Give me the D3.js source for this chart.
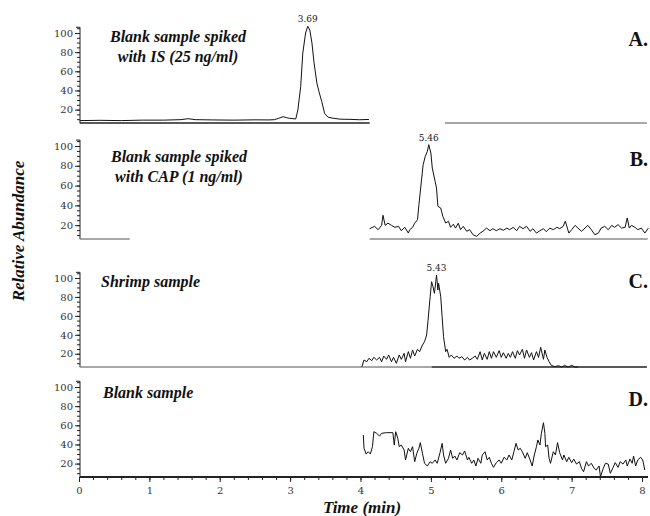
<!DOCTYPE html>
<html>
<head>
<meta charset="utf-8">
<script src="https://cdn.jsdelivr.net/npm/d3@7"></script>
<style>
  body { margin: 0; background: #fff; }
  svg { display: block; }
  .tick text { font-family: "DejaVu Serif", serif; font-size: 10px; fill: #333; }
  .tick line { stroke: #222; }
  .title { font-family: "Liberation Serif", serif; font-weight: bold; font-style: italic; font-size: 16px; fill: #111; }
  .letter { font-family: "Liberation Serif", serif; font-weight: bold; font-size: 20px; fill: #111; }
  .peak { font-family: "DejaVu Serif", serif; font-size: 9px; fill: #222; }
</style>
</head>
<body>
<div id="chart"></div>
<script>
// --- data (time in min, relative abundance in %) ---

const timeA = [0.01, 0.3, 0.6, 0.9, 1.2, 1.45, 1.55, 1.65, 1.9, 2.2, 2.5, 2.7, 2.78, 2.84, 2.90, 2.95, 2.99, 3.08,
  3.11, 3.15, 3.18, 3.22, 3.25, 3.28, 3.31, 3.34, 3.38, 3.41, 3.45, 3.49, 3.54, 3.61, 3.71, 3.85, 3.99, 4.12];
const abundA = [8.5, 8.8, 8.5, 9, 9, 9.5, 10.5, 9.5, 9.2, 9, 9.3, 9.2, 9.5, 11, 12.6, 11.5, 10.9, 10.2,
  19.6, 44, 79, 100, 107, 103, 89.6, 68.7, 47.8, 38.7, 28.3, 16, 12, 11, 10, 9.8, 9.4, 9.7];

const timeB = [4.13, 4.20, 4.25, 4.30, 4.32, 4.35, 4.39, 4.44, 4.49, 4.54, 4.58, 4.63, 4.68, 4.70, 4.74, 4.77, 4.81,
  4.83, 4.87, 4.89, 4.92, 4.95, 4.97, 5.00, 5.02, 5.06, 5.08, 5.10, 5.14, 5.17, 5.21, 5.25, 5.28, 5.32, 5.35, 5.39,
  5.42, 5.46, 5.51, 5.55, 5.60, 5.65, 5.70, 5.74, 5.79, 5.84, 5.88, 5.93, 5.98, 6.03, 6.08, 6.12, 6.17, 6.22, 6.26,
  6.31, 6.36, 6.41, 6.45, 6.50, 6.55, 6.60, 6.64, 6.69, 6.74, 6.79, 6.83, 6.88, 6.91, 6.94, 6.96, 7.00, 7.05, 7.09,
  7.14, 7.19, 7.23, 7.28, 7.33, 7.38, 7.42, 7.47, 7.52, 7.57, 7.61, 7.66, 7.71, 7.76, 7.79, 7.82, 7.85, 7.90, 7.94,
  7.99, 8.04, 8.09];
const abundB = [16.4, 18.8, 15.4, 19.8, 30, 19.8, 22, 19.8, 17.8, 18.8, 14.4, 17.8, 12, 15.4, 17.8, 22, 25.5,
  40.6, 67.6, 81, 89.5, 94.6, 101.3, 92.9, 77.7, 64.3, 57.5, 39, 37.3, 28.9, 22.2, 23.9, 17.8, 21, 17, 22,
  15.4, 18.8, 13.8, 15.4, 10.3, 8.7, 12, 13.8, 17, 14.4, 16.4, 14.4, 16.4, 14.9, 17, 15.4, 17.8, 14.4, 18.8,
  16.4, 18.8, 13.8, 16.4, 12, 14.4, 16.4, 13.4, 17, 15.4, 17.8, 16.4, 18.8, 24, 17, 12, 15.4, 19.8, 17,
  13.8, 17, 19.8, 15.4, 10.3, 12, 17, 18.8, 15.4, 19.8, 17.8, 20.5, 17, 17.8, 27.3, 17, 19.8, 17.8, 15.4,
  17, 12, 17];

const timeC = [4.02, 4.05, 4.09, 4.12, 4.16, 4.19, 4.23, 4.27, 4.30, 4.33, 4.37, 4.40, 4.44, 4.47, 4.51, 4.55, 4.58,
  4.62, 4.64, 4.68, 4.71, 4.74, 4.77, 4.81, 4.84, 4.88, 4.91, 4.94, 4.96, 4.99, 5.01, 5.03, 5.05, 5.07, 5.08, 5.10,
  5.11, 5.14, 5.16, 5.18, 5.21, 5.23, 5.26, 5.29, 5.33, 5.37, 5.40, 5.44, 5.48, 5.52, 5.55, 5.59, 5.63, 5.66, 5.70,
  5.73, 5.76, 5.80, 5.83, 5.86, 5.89, 5.93, 5.97, 6.00, 6.03, 6.07, 6.10, 6.13, 6.16, 6.20, 6.23, 6.26, 6.30, 6.33,
  6.36, 6.40, 6.43, 6.46, 6.50, 6.53, 6.56, 6.60, 6.62, 6.65, 6.68, 6.71, 6.76, 6.81, 6.86, 6.90, 6.95, 7.00, 7.05,
  7.09];
const abundC = [6.3, 13.4, 11.6, 15.2, 12.7, 16.2, 13.4, 16.2, 11.6, 17.6, 14.1, 18.7, 11.6, 16.2, 9.9, 18.7, 14.1,
  20.4, 11.6, 22.2, 15.2, 24, 17.6, 24.7, 22.2, 29.2, 32.7, 39.8, 55.6, 80.2, 96.1, 90.8, 83.8, 96.1, 103.1, 87.3,
  94.4, 80.2, 59.1, 38, 22.2, 24.7, 16.2, 18.7, 15.2, 17.6, 15.2, 16.9, 13.4, 16.2, 13.4, 15.2, 17.6, 14.1, 22.2,
  13.4, 20.4, 14.1, 22.2, 15.2, 22.2, 16.2, 23.3, 16.2, 21.1, 15.2, 20.4, 16.2, 22.2, 15.2, 23.3, 18.7, 24.7, 15.2,
  24, 16.2, 21.1, 13.4, 22.2, 16.2, 26.8, 14.1, 24, 16.2, 11.6, 7.9, 6.3, 7.4, 6, 7.7, 6, 7.7, 6,
  6];

const timeD = [4.04, 4.05, 4.08, 4.11, 4.14, 4.17, 4.19, 4.23, 4.27, 4.30, 4.37, 4.46, 4.48, 4.50, 4.53, 4.55, 4.58,
  4.62, 4.64, 4.68, 4.71, 4.74, 4.77, 4.80, 4.83, 4.85, 4.88, 4.91, 4.95, 4.99, 5.02, 5.06, 5.09, 5.13, 5.16, 5.18,
  5.21, 5.25, 5.28, 5.31, 5.34, 5.37, 5.41, 5.45, 5.48, 5.52, 5.54, 5.58, 5.61, 5.64, 5.67, 5.71, 5.73, 5.77, 5.80,
  5.83, 5.86, 5.89, 5.93, 5.97, 6.00, 6.04, 6.08, 6.11, 6.15, 6.18, 6.21, 6.24, 6.27, 6.30, 6.34, 6.37, 6.41, 6.44,
  6.47, 6.50, 6.52, 6.55, 6.57, 6.60, 6.62, 6.63, 6.66, 6.68, 6.70, 6.74, 6.77, 6.80, 6.83, 6.87, 6.89, 6.93, 6.96,
  7.00, 7.03, 7.07, 7.11, 7.14, 7.17, 7.21, 7.24, 7.28, 7.32, 7.35, 7.39, 7.41, 7.45, 7.48, 7.52, 7.55, 7.59, 7.62,
  7.66, 7.69, 7.73, 7.77, 7.79, 7.83, 7.86, 7.88, 7.91, 7.94, 7.98, 8.01, 8.04];
const abundD = [49.9, 36, 30, 32.4, 30, 37.7, 53.3, 51.6, 48.8, 51.6, 52.3, 52.3, 39.4, 53.3, 46.4, 37.7, 39.4,
  34.2, 23.8, 36, 32.4, 37.7, 22, 30.8, 36, 41.9, 30.8, 20.3, 17.5, 22, 20.3, 23.8, 20.3, 31.4, 41.2, 29,
  20.3, 25.5, 34.2, 25.5, 27.9, 23.8, 31.4, 29, 33.2, 23.8, 26.6, 20.3, 23.8, 17.5, 25.5, 20.3, 29, 32.4, 23.8,
  26.6, 20.3, 16.1, 21, 23.8, 20.3, 26.6, 23.8, 29, 23.8, 32.4, 41.2, 34.2, 36, 32.4, 25.5, 31.4, 23.8, 17.5,
  29, 37.7, 44.7, 39.4, 51.6, 62.7, 51.6, 37.7, 39.4, 25.5, 20.3, 32.4, 29, 41.9, 31.4, 23.8, 29, 22, 26.6,
  21, 24.7, 19.5, 22, 15.1, 11.5, 22, 17.5, 20.3, 15.1, 13.3, 17.5, 6.3, 15.1, 20.3, 19.5, 9.9, 16.1, 21,
  16.1, 22, 19.5, 23.8, 17.5, 24.7, 20.3, 27.9, 17.5, 23.8, 26.6, 23.8, 13.3];

const panelTitles = [
  ["Blank sample spiked", "with IS (25 ng/ml)"],
  ["Blank sample spiked", "with CAP (1 ng/ml)"],
  ["Shrimp sample"],
  ["Blank sample"]
];
const panelLetters = ["A.", "B.", "C.", "D."];
const peakLabels = ["3.69", "5.46", "5.43", null];
const peakTimes = [3.25, 4.97, 5.08, null];
const peakValues = [107, 101.3, 103.1, null];

// pieces of the time baseline visible under each trace (min), [start, end, dark?]
const baseSegments = [
  [[0.01, 4.13, true], [5.20, 8.07, false]],
  [[0.01, 0.72, false], [4.13, 8.08, false]],
  [[0.01, 5.01, false], [5.01, 8.07, true]],
  []
];

const yTicks = [20, 40, 60, 80, 100];
const xTicks = [0, 1, 2, 3, 4, 5, 6, 7, 8];

// --- layout ---
const width = 650, height = 516;
const series = [[timeA, abundA], [timeB, abundB], [timeC, abundC], [timeD, abundD]];
const layout = [
  { base: 123, top: 33, titleY: 42, titleX: 178, anchor: "middle", letterY: 46 },
  { base: 239, top: 146, titleY: 162, titleX: 179, anchor: "middle", letterY: 166 },
  { base: 367, top: 278, titleY: 287, titleX: 101, anchor: "start", letterY: 288 },
  { base: 477, top: 387, titleY: 398, titleX: 103, anchor: "start", letterY: 406 }
];

const svg = d3.select("#chart").append("svg")
  .attr("width", width)
  .attr("height", height);

const x = d3.scaleLinear().domain([0, 8]).range([79, 642]);
const axisX = 80;

layout.forEach((L, i) => {
  const y = d3.scaleLinear().domain([6, 100]).range([L.base, L.top]);
  const g = svg.append("g");

  // y axis: minor + major ticks
  const minor = d3.range(10, 106, 5);
  g.append("g")
    .attr("transform", `translate(${axisX},0)`)
    .call(d3.axisLeft(y).tickValues(minor).tickSize(3).tickFormat(""))
    .call(a => a.select(".domain").remove());
  g.append("g")
    .attr("transform", `translate(${axisX},0)`)
    .call(d3.axisLeft(y).tickValues(yTicks).tickSize(5).tickPadding(2))
    .call(a => a.select(".domain").remove());
  g.append("line")
    .attr("x1", axisX).attr("x2", axisX)
    .attr("y1", y(106)).attr("y2", L.base)
    .attr("stroke", "#222").attr("stroke-width", 1);
  g.append("line")
    .attr("x1", axisX - 4).attr("x2", axisX)
    .attr("y1", y(106)).attr("y2", y(106))
    .attr("stroke", "#222");

  // baseline segments
  baseSegments[i].forEach(s => {
    g.append("line")
      .attr("x1", x(s[0])).attr("x2", x(s[1]))
      .attr("y1", L.base).attr("y2", L.base)
      .attr("stroke", s[2] ? "#222" : "#8a8a8a")
      .attr("stroke-width", s[2] ? 1.5 : 1.3);
  });

  // trace
  const [tt, vv] = series[i];
  const pts = tt.map((t, k) => [t, vv[k]]);
  g.append("path")
    .datum(pts)
    .attr("fill", "none")
    .attr("stroke", "#111")
    .attr("stroke-width", 1)
    .attr("d", d3.line().x(d => x(d[0])).y(d => y(d[1])));

  // peak label
  if (peakLabels[i]) {
    g.append("text").attr("class", "peak")
      .attr("x", x(peakTimes[i]))
      .attr("y", y(peakValues[i]) - 4)
      .attr("text-anchor", "middle")
      .text(peakLabels[i]);
  }

  // title
  panelTitles[i].forEach((line, k) => {
    g.append("text").attr("class", "title")
      .attr("x", L.titleX)
      .attr("y", L.titleY + k * 20)
      .attr("text-anchor", L.anchor)
      .text(line);
  });

  g.append("text").attr("class", "letter")
    .attr("x", 648).attr("y", L.letterY)
    .attr("text-anchor", "end")
    .text(panelLetters[i]);

  // time axis on the last panel
  if (i === 3) {
    g.append("g")
      .attr("transform", `translate(0,${L.base})`)
      .call(d3.axisBottom(x).tickValues(d3.range(0, 8.01, 0.2)).tickSize(3).tickFormat(""))
      .call(a => a.select(".domain").remove());
    g.append("g")
      .attr("transform", `translate(0,${L.base})`)
      .call(d3.axisBottom(x).tickValues(xTicks).tickSize(5).tickPadding(5))
      .call(a => a.select(".domain").remove());
    g.append("line")
      .attr("x1", axisX).attr("x2", 648)
      .attr("y1", L.base).attr("y2", L.base)
      .attr("stroke", "#222").attr("stroke-width", 2);
  }
});

svg.append("text").attr("class", "title")
  .attr("transform", "translate(24,231) rotate(-90)")
  .attr("text-anchor", "middle")
  .style("font-size", "17px")
  .text("Relative Abundance");

svg.append("text").attr("class", "title")
  .attr("x", 362).attr("y", 513)
  .attr("text-anchor", "middle")
  .style("font-size", "17px")
  .text("Time (min)");
</script>
</body>
</html>
